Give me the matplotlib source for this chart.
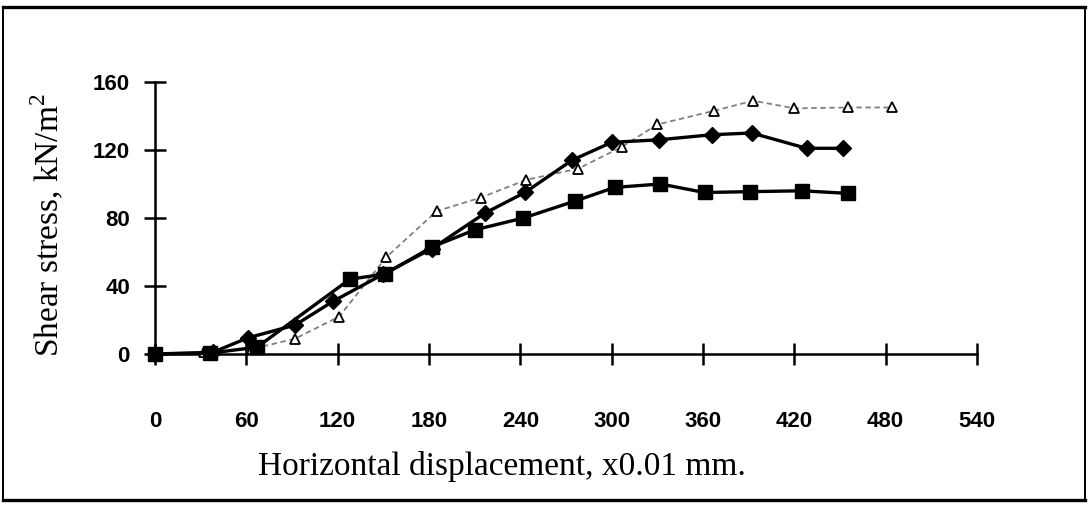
import matplotlib
matplotlib.use("Agg")
import matplotlib.pyplot as plt
from matplotlib.lines import Line2D

plt.rcParams["mathtext.fontset"] = "custom"
plt.rcParams["mathtext.rm"] = "Liberation Serif"

# ---- data ----
diamond_x = [0, 38, 61, 92, 117, 150, 182, 217, 243, 274, 300, 331, 366, 392, 428, 452]
diamond_y = [0, 1, 9.5, 17, 31, 47, 62, 83, 95, 114, 124.5, 126, 129, 130, 121, 121]

square_x = [0, 36, 67, 128, 151, 182, 210, 242, 276, 302, 332, 361, 391, 425, 455]
square_y = [0, 0.5, 4, 44, 47, 63, 73, 80, 90, 98, 100, 95, 95.5, 96, 94.5]

triangle_x = [0, 32, 64, 92, 121, 152, 185, 214, 244, 278, 307, 330, 367, 393, 420, 455, 484]
triangle_y = [0, 1, 3, 9, 22, 57, 84, 92, 102.5, 109, 122, 135, 143, 149, 144.5, 145, 145]

x_ticks = [0, 60, 120, 180, 240, 300, 360, 420, 480, 540]
y_ticks = [0, 40, 80, 120, 160]

W, H = 1088, 508
fig = plt.figure(figsize=(W / 100, H / 100), dpi=100)
ax = fig.add_axes([155 / W, (H - 354) / H, (977 - 155) / W, (354 - 82) / H])

ax.plot(triangle_x, triangle_y, color="#808080", lw=1.3, ls=(0, (3, 2)),
        marker="^", ms=7, mfc="white", mec="black", mew=1.3, clip_on=False, zorder=3)
ax.plot(square_x, square_y, color="black", lw=2.4, marker="s", ms=10,
        mfc="black", mec="black", clip_on=False, zorder=4)
ax.plot(diamond_x, diamond_y, color="black", lw=2.4, marker="D", ms=8.5,
        mfc="black", mec="black", clip_on=False, zorder=5)

ax.set_xlim(0, 540)
ax.set_ylim(0, 160)
ax.set_xticks(x_ticks)
ax.set_yticks(y_ticks)
for s in ["top", "right"]:
    ax.spines[s].set_visible(False)
for s in ["left", "bottom"]:
    ax.spines[s].set_linewidth(1.8)
    ax.spines[s].set_color("black")

ax.tick_params(axis="both", direction="inout", length=16, width=1.8, colors="black")
ax.tick_params(axis="x", pad=33)
ax.tick_params(axis="y", pad=10)
for lab in ax.get_xticklabels() + ax.get_yticklabels():
    lab.set_fontfamily("Liberation Sans")
    lab.set_fontweight("bold")
    lab.set_fontsize(16)

ax.set_xlabel("Horizontal displacement, x0.01 mm.", family="Liberation Serif",
              fontsize=24)
ax.set_ylabel("Shear stress, kN/m$^2$", family="Liberation Serif", fontsize=24)
ax.xaxis.set_label_coords(0.422, -0.355)
ax.yaxis.set_label_coords(-0.108, 0.475)

# frame around the whole figure
def fl(x0, y0, x1, y1, lw):
    fig.add_artist(Line2D([x0 / W, x1 / W], [1 - y0 / H, 1 - y1 / H],
                          color="black", lw=lw, transform=fig.transFigure))
fl(3, 7, 1085, 7, 2.4)
fl(3, 500, 1085, 500, 2.4)
fl(3, 7, 3, 500, 1.4)
fl(1085, 7, 1085, 500, 1.4)

fig.savefig("out.png", dpi=100)
